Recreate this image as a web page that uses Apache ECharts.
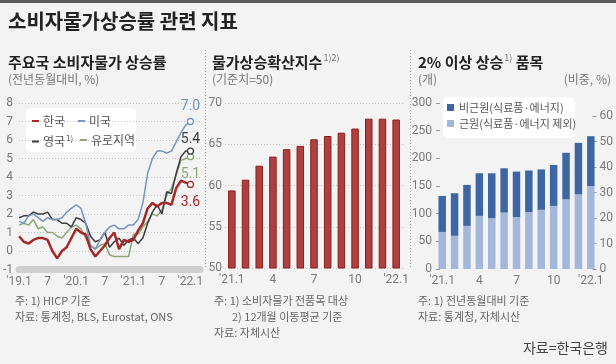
<!DOCTYPE html>
<html><head><meta charset="utf-8">
<script src="https://cdn.jsdelivr.net/npm/echarts@6/dist/echarts.min.js"></script>
<style>html,body{margin:0;padding:0;background:#f3f3f3;}#c{width:616px;height:364px;}</style>
</head><body><div id="c"></div>
<script>
// ---- Panel 1: 주요국 소비자물가 상승률 (monthly, '19.1 ~ '22.1)
const lineTickPos = [0, 6, 12, 18, 24, 30, 36];
const lineTickLabels = ["'19.1", "7", "'20.1", "7", "'21.1", "7", "'22.1"];
const korea = [0.8,0.5,0.4,0.6,0.7,0.7,0.6,0.0,-0.4,0.0,0.2,0.7, 1.2,1.0,0.9,0.1,-0.3,0.0,0.3,0.7,1.0,0.1,0.6,0.5, 0.6,1.1,1.5,2.3,2.6,2.4,2.6,2.6,2.5,3.4,3.8,3.7,3.6];
const usa   = [1.6,1.5,1.9,2.0,1.8,1.6,1.8,1.7,1.7,1.8,2.1,2.3, 2.5,2.3,1.5,0.3,0.1,0.6,1.0,1.3,1.4,1.2,1.2,1.4, 1.4,1.7,2.6,4.2,5.0,5.4,5.4,5.3,5.4,5.9,6.4,6.8,7.0];
const uk    = [1.8,1.9,1.9,2.1,2.0,2.0,2.1,1.7,1.7,1.5,1.5,1.3, 1.8,1.7,1.5,0.8,0.5,0.6,1.0,0.2,0.5,0.7,0.3,0.6, 0.7,0.4,0.7,1.5,2.1,2.5,2.0,3.2,3.1,4.2,5.1,5.4,5.4];
const euro  = [1.4,1.5,1.4,1.7,1.2,1.3,1.0,1.0,0.8,0.7,1.0,1.3, 1.4,1.2,0.7,0.3,0.1,0.3,0.4,-0.2,-0.3,-0.3,-0.3,-0.3, 0.9,0.9,1.3,1.6,2.0,1.9,2.2,3.0,3.4,4.1,4.9,5.0,5.1];
const lineYTicks = [-1, 8, 1];

// ---- Panel 2: 물가상승확산지수
const barMonths = ["'21.1","2","3","4","5","6","7","8","9","10","11","12","'22.1"];
const diffusion = [59.4,60.7,62.4,63.5,64.4,64.8,65.6,66.0,66.4,66.9,68.1,68.1,68.0];

// ---- Panel 3: 2% 이상 상승 품목
const coreItems    = [67,60,78,96,92,102,94,103,107,114,126,135,150];
const nonCoreItems = [65,77,74,77,81,80,82,75,73,74,84,93,90];

const FONT = '"Noto Sans CJK KR","Noto Sans",sans-serif';
const NUMFONT = 'Roboto,"Noto Sans CJK KR",sans-serif';
const C = {kr:'#a42a2a', us:'#7495c2', uk:'#3c3c3c', eu:'#8ea778'};

function lineData(arr, color, pos, dist) {
  return arr.map((v, i) => i === arr.length - 1 ? {
    value: [i, v], symbol: 'circle', symbolSize: 6,
    itemStyle: {color: '#fff', borderColor: color, borderWidth: 1.3},
    label: {show: true, position: pos, distance: dist, formatter: p => p.value[1].toFixed(1),
            color: color, fontSize: 14, fontFamily: NUMFONT}
  } : [i, v]);
}
function lineSeries(name, arr, color, width, pos, dist) {
  return {name, type: 'line', xAxisIndex: 0, yAxisIndex: 0, data: lineData(arr, color, pos, dist),
    symbol: 'none', showAllSymbol: true, color: color, lineStyle: {width: width, color: color},
    emphasis: {disabled: true}, animation: false};
}
function legendAt(name, left, top) {
  return {data: [name], left, top, padding: 0, icon: 'rect', itemWidth: 7, itemHeight: 2, itemGap: 4,
    selectedMode: false,
    formatter: n => n === '영국' ? '영국{s|1)}' : n,
    textStyle: {fontSize: 12, color: '#555', fontFamily: FONT, padding: [0,0,0,-1],
      rich: {s: {fontSize: 8, color: '#555', padding: [0, 0, 7, 1], fontFamily: FONT}}}};
}
const axisLabelStyle = {color: '#7a7a7a', fontSize: 12, fontFamily: NUMFONT};
const dotted = {color: '#c4c4c4', type: [1, 2], width: 1};

function txt(text, x, y, size, color, weight, align) {
  return {type: 'text', x, y, style: {text, fontSize: size, fill: color, fontWeight: weight || 'normal',
    fontFamily: FONT, align: align || 'left', verticalAlign: 'middle',
    rich: {s: {fontSize: 9, fill: '#777', padding: [0, 0, 9, 1], fontFamily: FONT}}}};
}
function vline(x, y1, y2) {
  return {type: 'line', shape: {x1: x, y1, x2: x, y2}, style: {stroke: '#a8a8a8', lineWidth: 1, lineDash: [1, 2]}};
}

const chart = echarts.init(document.getElementById('c'), null, {renderer: 'canvas'});
chart.setOption({
  backgroundColor: '#f3f3f3',
  animation: false,
  textStyle: {fontFamily: FONT},
  grid: [
    {left: 18, top: 103, width: 182, height: 166.5},
    {left: 225, top: 103, width: 178, height: 165},
    {left: 436, top: 103, width: 161, height: 166},
    {left: 436, top: 116, width: 161, height: 153}
  ],
  xAxis: [
    {gridIndex: 0, type: 'value', min: 0, max: 38, interval: 6,
      axisLine: {show: true, onZero: false, lineStyle: {color: '#cfcfcf', width: 7, type: [1, 1.5]}},
      axisTick: {show: false}, splitLine: {show: false},
      axisLabel: Object.assign({}, axisLabelStyle, {margin: 6,
        formatter: v => { const k = lineTickPos.indexOf(v); return k >= 0 ? lineTickLabels[k] : ''; }})},
    {gridIndex: 1, type: 'category', data: barMonths, axisLine: {show: false}, axisTick: {show: false},
      axisLabel: Object.assign({}, axisLabelStyle, {interval: 2, margin: 6})},
    {gridIndex: 2, type: 'category', data: barMonths, axisLine: {show: false}, axisTick: {show: false},
      axisLabel: Object.assign({}, axisLabelStyle, {interval: 2, margin: 6})},
    {gridIndex: 3, type: 'category', data: barMonths, show: false}
  ],
  yAxis: [
    {gridIndex: 0, type: 'value', min: lineYTicks[0], max: lineYTicks[1], interval: lineYTicks[2],
      axisLine: {show: false}, axisTick: {show: false}, splitLine: {show: true, lineStyle: dotted},
      axisLabel: Object.assign({}, axisLabelStyle, {margin: 6})},
    {gridIndex: 1, type: 'value', min: 50, max: 70, interval: 5,
      axisLine: {show: false}, axisTick: {show: false}, splitLine: {show: true, lineStyle: dotted},
      axisLabel: Object.assign({}, axisLabelStyle, {margin: 3})},
    {gridIndex: 2, type: 'value', min: 0, max: 300, interval: 50, position: 'left',
      axisLine: {show: false}, axisTick: {show: true, inside: true, length: 4, lineStyle: {color: '#999'}},
      splitLine: {show: false}, axisLabel: Object.assign({}, axisLabelStyle, {margin: 4})},
    {gridIndex: 3, type: 'value', min: 0, max: 60, interval: 10, position: 'right',
      axisLine: {show: false}, axisTick: {show: true, inside: true, length: 4, lineStyle: {color: '#999'}},
      splitLine: {show: false}, axisLabel: Object.assign({}, axisLabelStyle, {margin: 3})}
  ],
  legend: [
    legendAt('한국', 32, 115), legendAt('미국', 78, 115),
    legendAt('영국', 32, 134), legendAt('유로지역', 80, 134),
    {data: ['비근원(식료품·에너지)', '근원(식료품·에너지 제외)'], orient: 'vertical', left: 447, top: 102,
      padding: 0, itemGap: 5, icon: 'rect', itemWidth: 7, itemHeight: 7, selectedMode: false,
      textStyle: {fontSize: 11, color: '#555', fontFamily: FONT}}
  ],
  graphic: [
    {type: 'rect', shape: {x: 0, y: 0, width: 616, height: 3}, style: {fill: '#5c5c5c'}, z: -1},
    {type: 'rect', shape: {x: 26, y: 108, width: 110, height: 44, r: 5}, style: {fill: '#fff'}, z: -1},
    {type: 'rect', shape: {x: 443, y: 97, width: 132, height: 41, r: 5}, style: {fill: '#fff'}, z: -1},
    txt('소비자물가상승률 관련 지표', 8, 21, 20, '#222', 'bold'),
    txt('주요국 소비자물가 상승률', 8, 62, 15, '#222', 'bold'),
    txt('(전년동월대비, %)', 8, 79, 12, '#777'),
    txt('물가상승확산지수{s|1)2)}', 212, 62, 15, '#222', 'bold'),
    txt('(기준치=50)', 212, 79, 12, '#777'),
    txt('2% 이상 상승{s|1)} 품목', 418, 62, 15, '#222', 'bold'),
    txt('(개)', 418, 79, 12, '#777'),
    txt('(비중, %)', 611, 79, 12, '#777', 'normal', 'right'),
    vline(205.5, 50, 268), vline(410.5, 50, 268),
    txt('주: 1) HICP 기준', 15, 301, 11, '#666'),
    txt('자료: 통계청, BLS, Eurostat, ONS', 15, 317, 11, '#666'),
    txt('주: 1) 소비자물가 전품목 대상', 214, 301, 11, '#666'),
    txt('2) 12개월 이동평균 기준', 232, 317, 11, '#666'),
    txt('자료: 자체시산', 214, 333, 11, '#666'),
    txt('주: 1) 전년동월대비 기준', 418, 301, 11, '#666'),
    txt('자료: 통계청, 자체시산', 418, 317, 11, '#666'),
    txt('자료=한국은행', 608, 348, 14, '#444', 'normal', 'right')
  ],
  series: [
    lineSeries('유로지역', euro, C.eu, 1.5, 'bottom', 7),
    lineSeries('영국', uk, C.uk, 1.5, 'top', 1),
    lineSeries('미국', usa, C.us, 1.5, 'top', 4),
    lineSeries('한국', korea, C.kr, 2.5, 'bottom', 7),
    {name: '물가상승확산지수', type: 'bar', xAxisIndex: 1, yAxisIndex: 1, data: diffusion, barWidth: 7.5,
      itemStyle: {color: '#ad4141', borderColor: '#8c1c1c', borderWidth: 1}, animation: false},
    {name: '근원(식료품·에너지 제외)', type: 'bar', stack: 'items', xAxisIndex: 2, yAxisIndex: 2,
      data: coreItems, barWidth: 7.5, itemStyle: {color: '#a2b7da'}, animation: false},
    {name: '비근원(식료품·에너지)', type: 'bar', stack: 'items', xAxisIndex: 2, yAxisIndex: 2,
      data: nonCoreItems, barWidth: 7.5, itemStyle: {color: '#3e66a3'}, animation: false}
  ]
});
</script></body></html>
